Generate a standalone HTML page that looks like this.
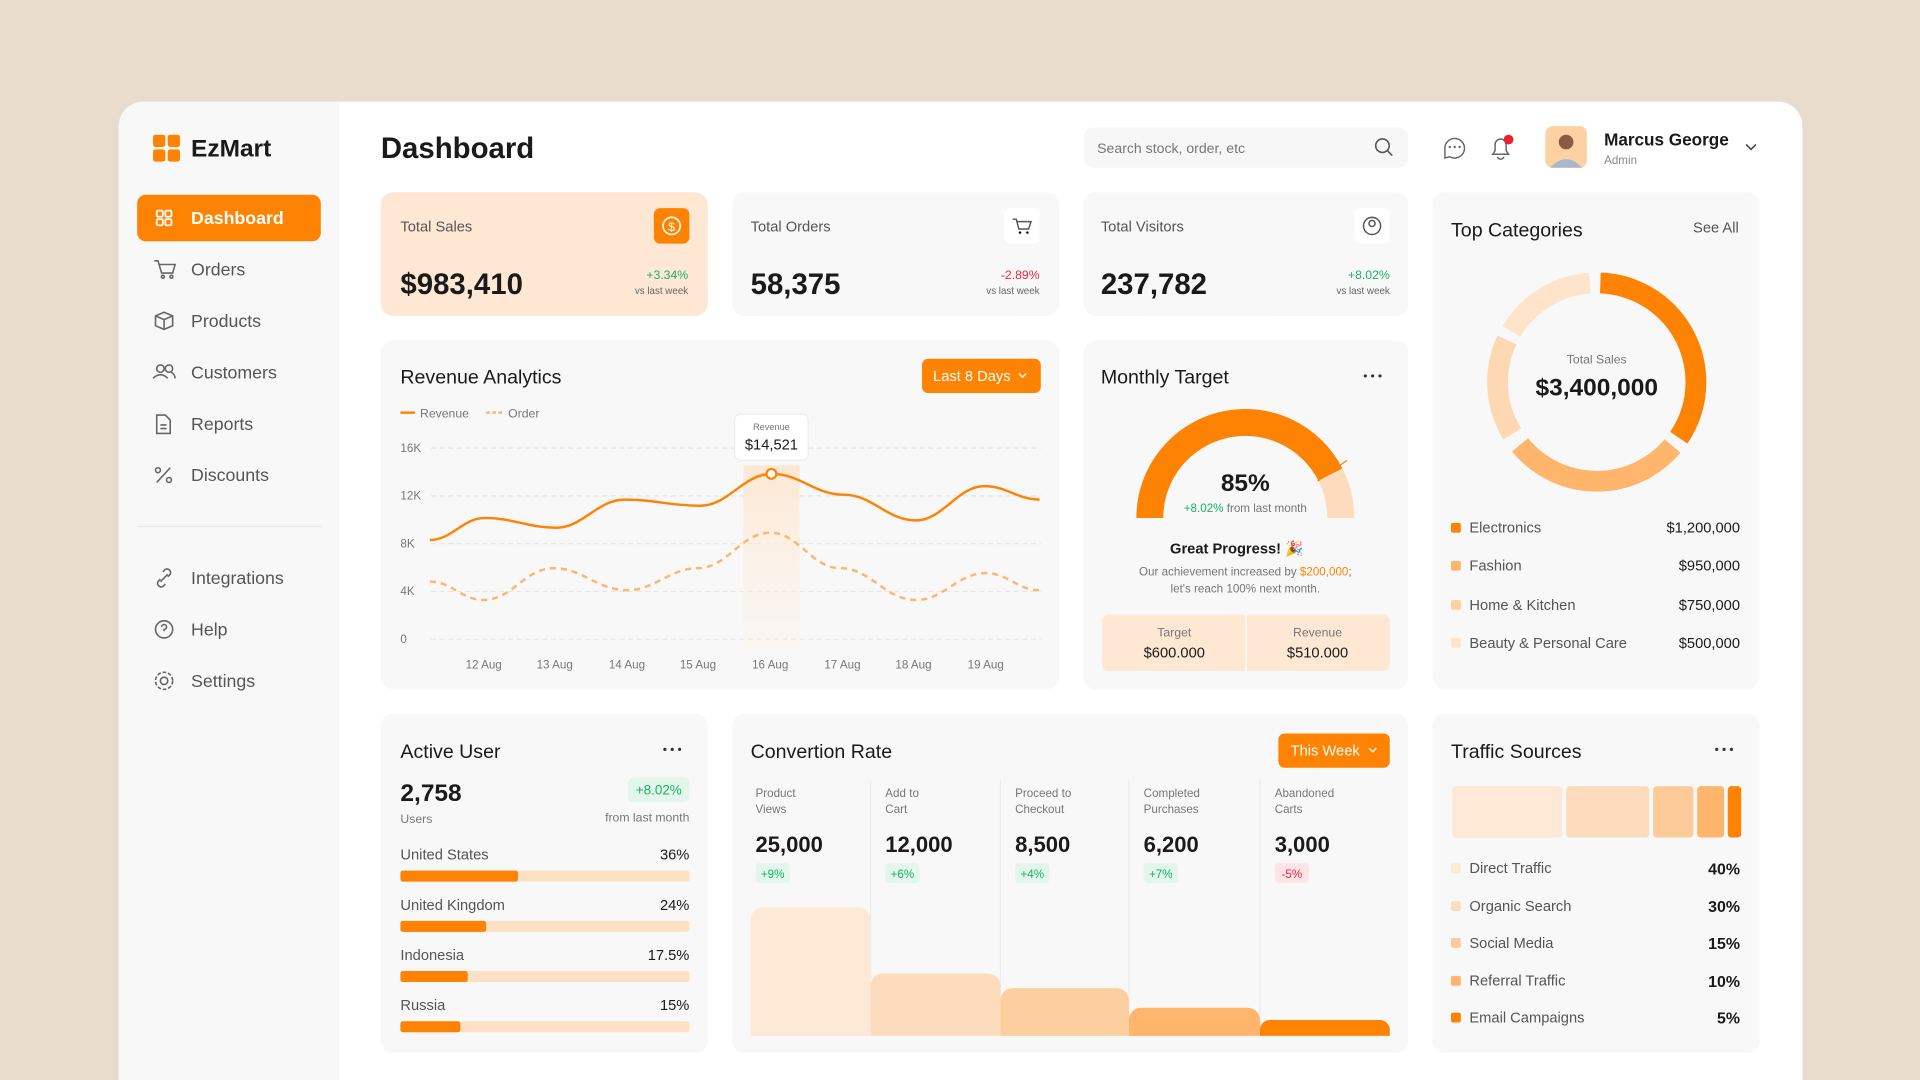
<!DOCTYPE html>
<html><head><meta charset="utf-8"><style>
html,body{margin:0;padding:0;background:#e8dccc;}
svg{display:block;font-family:"Liberation Sans",sans-serif;}
</style></head><body>
<svg width="1920" height="1080" viewBox="0 0 1568 882" xmlns="http://www.w3.org/2000/svg">
<rect width="1568" height="882" fill="#e8dccc"/>
<!-- panel -->
<rect x="97" y="83" width="1375" height="830" rx="20" fill="#ffffff"/>
<path d="M117 83 H277 V882 H97 V103 A20 20 0 0 1 117 83 Z" fill="#f8f8f8"/>
<!-- logo -->
<g fill="#ff8303"><rect x="125" y="110" width="10" height="10" rx="2"/><rect x="137" y="110" width="10" height="10" rx="2"/><rect x="125" y="122" width="10" height="10" rx="2"/><rect x="137" y="122" width="10" height="10" rx="2"/></g>
<text x="156" y="128" font-size="20" font-weight="bold" fill="#1a1a1a">EzMart</text>
<!-- nav -->
<rect x="112" y="159" width="150" height="38" rx="7" fill="#ff8303"/>
<g fill="none" stroke="#fff" stroke-width="1.4"><rect x="128" y="172" width="5" height="5" rx="1"/><rect x="135" y="172" width="5" height="5" rx="1"/><rect x="128" y="179" width="5" height="5" rx="1"/><rect x="135" y="179" width="5" height="5" rx="1"/></g>
<text x="156" y="183" font-size="14.5" fill="#fff" font-weight="bold">Dashboard</text>
<g font-size="14.5" fill="#555">
<text x="156" y="225">Orders</text><text x="156" y="267">Products</text><text x="156" y="309">Customers</text>
<text x="156" y="351">Reports</text><text x="156" y="393">Discounts</text>
<text x="156" y="477">Integrations</text><text x="156" y="519">Help</text><text x="156" y="561">Settings</text>
</g>
<g fill="none" stroke="#666" stroke-width="1.3">
<path d="M126 213 h3 l3 10 h9 l2 -7 h-13"/><circle cx="133" cy="226" r="1.2"/><circle cx="140" cy="226" r="1.2"/>
<path d="M134 255 l7 3 v8 l-7 3 l-7 -3 v-8 z M127 258 l7 3 l7 -3 M134 261 v8"/>
<circle cx="131" cy="301" r="3"/><path d="M125 309 q6 -6 12 0"/><circle cx="138" cy="301" r="3"/><path d="M140 304 q3 2 3 5"/>
<path d="M128 339 h7 l4 4 v11 h-11 z M131 347 h5 M131 350 h5"/>
<path d="M128 394 l11 -12"/><circle cx="129" cy="384" r="2"/><circle cx="138" cy="392" r="2"/>
<path d="M131 473 l-2 2 a3 3 0 0 0 4 4 l2 -2 M137 471 l2 -2 a3 3 0 0 0 -4 -4 l-2 2 M131 475 l6 -6"/>
<circle cx="134" cy="514" r="7"/><path d="M132 512 a2 2 0 1 1 2 2 v1.5"/>
<circle cx="134" cy="556" r="3"/><circle cx="134" cy="556" r="7" stroke-dasharray="3 1.5"/>
</g>
<line x1="112" y1="430" x2="262" y2="430" stroke="#e6e6e6"/>
<!-- header -->
<text x="311" y="129" font-size="24" font-weight="bold" fill="#1a1a1a">Dashboard</text>
<rect x="885" y="104" width="265" height="33" rx="8" fill="#f7f7f7"/>
<text x="896" y="125" font-size="11.5" fill="#777">Search stock, order, etc</text>
<circle cx="1129" cy="119" r="5.5" fill="none" stroke="#555" stroke-width="1.3"/><path d="M1133 123 l4 4" stroke="#555" stroke-width="1.3"/>
<path d="M1180 121 a8 8 0 1 1 4 7 l-4 1 z" fill="none" stroke="#666" stroke-width="1.2"/>
<g fill="#666"><circle cx="1184" cy="120" r="1"/><circle cx="1188" cy="120" r="1"/><circle cx="1192" cy="120" r="1"/></g>
<path d="M1219 126 h13 l-2 -3 v-5 a4.5 4.5 0 0 0 -9 0 v5 z M1223 128 a2.5 2 0 0 0 5 0" fill="none" stroke="#666" stroke-width="1.2"/>
<circle cx="1232" cy="114" r="4" fill="#f21d2f"/>
<rect x="1262" y="103" width="34" height="34" rx="6" fill="#fdd1a2"/>
<circle cx="1279" cy="116" r="6" fill="#8a5a44"/><path d="M1266 137 q13 -14 26 0 z" fill="#a9b8c8"/>
<text x="1310" y="119" font-size="14" font-weight="bold" fill="#1a1a1a">Marcus George</text>
<text x="1310" y="134" font-size="9.5" fill="#888">Admin</text>
<path d="M1426 118 l4 4 l4 -4" fill="none" stroke="#444" stroke-width="1.3"/>
<!-- stat cards -->
<rect x="311" y="157" width="267" height="101" rx="10" fill="#fee8d4"/>
<rect x="598" y="157" width="267" height="101" rx="10" fill="#f8f8f8"/>
<rect x="885" y="157" width="265" height="101" rx="10" fill="#f8f8f8"/>
<g font-size="12" fill="#555"><text x="327" y="189">Total Sales</text><text x="613" y="189">Total Orders</text><text x="899" y="189">Total Visitors</text></g>
<g font-size="24" font-weight="bold" fill="#1a1a1a"><text x="327" y="240">$983,410</text><text x="613" y="240">58,375</text><text x="899" y="240">237,782</text></g>
<rect x="534" y="170" width="29" height="29" rx="5" fill="#ff8303"/><circle cx="548.5" cy="184.5" r="7" fill="none" stroke="#fff" stroke-width="1.3"/><text x="548.5" y="188.5" font-size="10" fill="#fff" text-anchor="middle">$</text>
<rect x="820" y="170" width="29" height="29" rx="5" fill="#fff"/><path d="M827 179 h3 l2 8 h8 l2 -6 h-11" fill="none" stroke="#555" stroke-width="1.2"/><circle cx="833" cy="190" r="1"/><circle cx="839" cy="190" r="1"/>
<rect x="1106" y="170" width="29" height="29" rx="5" fill="#fff"/><circle cx="1120.5" cy="184.5" r="7" fill="none" stroke="#555" stroke-width="1.2"/><circle cx="1120.5" cy="182.5" r="2.5" fill="none" stroke="#555" stroke-width="1.2"/>
<g text-anchor="end"><text x="562" y="228" font-size="10" fill="#16b364">+3.34%</text><text x="562" y="240" font-size="8" fill="#666">vs last week</text>
<text x="849" y="228" font-size="10" fill="#f0243a">-2.89%</text><text x="849" y="240" font-size="8" fill="#666">vs last week</text>
<text x="1135" y="228" font-size="10" fill="#16b364">+8.02%</text><text x="1135" y="240" font-size="8" fill="#666">vs last week</text></g>
<!-- Revenue Analytics -->
<rect x="311" y="278" width="554" height="285" rx="10" fill="#f8f8f8"/>
<text x="327" y="313" font-size="16" fill="#1a1a1a">Revenue Analytics</text>
<rect x="753" y="293" width="97" height="28" rx="5" fill="#ff8303"/>
<text x="762" y="311" font-size="12" fill="#fff">Last 8 Days</text><path d="M832 305 l3 3 l3 -3" fill="none" stroke="#fff" stroke-width="1.1"/>
<line x1="327" y1="337" x2="339" y2="337" stroke="#ff8303" stroke-width="2"/><text x="343" y="341" font-size="10" fill="#777">Revenue</text>
<line x1="397" y1="337" x2="410" y2="337" stroke="#ffb56b" stroke-width="2" stroke-dasharray="3 2"/><text x="415" y="341" font-size="10" fill="#777">Order</text>
<g stroke="#e6e6e6" stroke-dasharray="4 3"><line x1="352" y1="366" x2="850" y2="366"/><line x1="352" y1="405" x2="850" y2="405"/><line x1="352" y1="444" x2="850" y2="444"/><line x1="352" y1="483" x2="850" y2="483"/><line x1="352" y1="522" x2="850" y2="522"/></g>
<g font-size="9.5" fill="#777"><text x="327" y="369">16K</text><text x="327" y="408">12K</text><text x="327" y="447">8K</text><text x="327" y="486">4K</text><text x="327" y="525">0</text></g>
<g font-size="9.5" fill="#777" text-anchor="middle"><text x="395" y="546">12 Aug</text><text x="453" y="546">13 Aug</text><text x="512" y="546">14 Aug</text><text x="570" y="546">15 Aug</text><text x="629" y="546">16 Aug</text><text x="688" y="546">17 Aug</text><text x="746" y="546">18 Aug</text><text x="805" y="546">19 Aug</text></g>
<defs><linearGradient id="hb" x1="0" y1="0" x2="0" y2="1"><stop offset="0" stop-color="#fde8d4"/><stop offset="1" stop-color="#fdf1e6" stop-opacity="0.3"/></linearGradient></defs>
<rect x="607" y="380" width="46" height="150" fill="url(#hb)"/>
<path d="M351 441 C369 441 378 423 396 423 C419 423 431 431 454 431 C476 431 488 408 510 408 C535 408 547 413 572 413 C595 413 607 387 630 387 C654 387 665 404 689 404 C713 404 724 425 748 425 C770 425 782 397 804 397 C822 397 831 408 849 408" fill="none" stroke="#ff8303" stroke-width="2"/>
<path d="M351 475 C369 475 377 490 395 490 C418 490 429 464 452 464 C476 464 488 482 512 482 C535 482 547 464 570 464 C594 464 605 435 629 435 C652 435 663 464 686 464 C711 464 723 490 748 490 C771 490 782 468 805 468 C823 468 831 482 849 482" fill="none" stroke="#ffb56b" stroke-width="2" stroke-dasharray="5 4"/>
<rect x="600" y="338" width="60" height="38" rx="5" fill="#fff" stroke="#eee"/>
<text x="630" y="351" font-size="7.5" fill="#777" text-anchor="middle">Revenue</text>
<text x="630" y="367" font-size="12" fill="#1a1a1a" text-anchor="middle">$14,521</text>
<circle cx="630" cy="387" r="4" fill="#fff" stroke="#ff8303" stroke-width="1.8"/>
<!-- Monthly Target -->
<rect x="885" y="278" width="265" height="285" rx="10" fill="#f8f8f8"/>
<text x="899" y="313" font-size="16" fill="#1a1a1a">Monthly Target</text>
<g fill="#333"><circle cx="1115" cy="307" r="1.3"/><circle cx="1121" cy="307" r="1.3"/><circle cx="1127" cy="307" r="1.3"/></g>
<path d="M939 423 A78 78 0 0 1 1086.5 387.6" fill="none" stroke="#ff8303" stroke-width="22"/>
<path d="M1086.5 387.6 A78 78 0 0 1 1095 423" fill="none" stroke="#fddcbd" stroke-width="22"/>
<line x1="1076" y1="393" x2="1100" y2="376" stroke="#ff8303" stroke-width="1"/>
<text x="1017" y="401" font-size="20" font-weight="bold" fill="#1a1a1a" text-anchor="middle">85%</text>
<text x="1017" y="418" font-size="9.5" fill="#777" text-anchor="middle"><tspan fill="#16b364">+8.02%</tspan> from last month</text>
<text x="1010" y="452" font-size="12" font-weight="bold" fill="#1a1a1a" text-anchor="middle">Great Progress! 🎉</text>
<text x="1017" y="470" font-size="9.5" fill="#777" text-anchor="middle">Our achievement increased by <tspan fill="#ff8303">$200,000</tspan>;</text>
<text x="1017" y="484" font-size="9.5" fill="#777" text-anchor="middle">let's reach 100% next month.</text>
<rect x="900" y="502" width="235" height="46" rx="5" fill="#fee8d4"/>
<line x1="1017.5" y1="502" x2="1017.5" y2="548" stroke="#fff"/>
<text x="959" y="520" font-size="10" fill="#777" text-anchor="middle">Target</text>
<text x="959" y="537" font-size="12" fill="#1a1a1a" text-anchor="middle">$600.000</text>
<text x="1076" y="520" font-size="10" fill="#777" text-anchor="middle">Revenue</text>
<text x="1076" y="537" font-size="12" fill="#1a1a1a" text-anchor="middle">$510.000</text>
<!-- Top Categories -->
<rect x="1170" y="157" width="267" height="406" rx="10" fill="#f8f8f8"/>
<text x="1185" y="193" font-size="16" fill="#1a1a1a">Top Categories</text>
<text x="1420" y="190" font-size="12" fill="#555" text-anchor="end">See All</text>
<g fill="none" stroke-width="17" transform="rotate(-90 1304 312)">
<circle cx="1304" cy="312" r="81" stroke="#ff8303" stroke-dasharray="172.5 336.4" stroke-dashoffset="-3"/>
<circle cx="1304" cy="312" r="81" stroke="#ffb56b" stroke-dasharray="142 366.9" stroke-dashoffset="-184"/>
<circle cx="1304" cy="312" r="81" stroke="#fdd8b3" stroke-dasharray="80 428.9" stroke-dashoffset="-337"/>
<circle cx="1304" cy="312" r="81" stroke="#fee4ca" stroke-dasharray="78 430.9" stroke-dashoffset="-425"/>
</g>
<text x="1304" y="297" font-size="10" fill="#777" text-anchor="middle">Total Sales</text>
<text x="1304" y="323" font-size="20" font-weight="bold" fill="#1a1a1a" text-anchor="middle">$3,400,000</text>
<rect x="1185" y="427" width="8" height="8" rx="1.5" fill="#ff8303"/><rect x="1185" y="458" width="8" height="8" rx="1.5" fill="#ffb56b"/><rect x="1185" y="490" width="8" height="8" rx="1.5" fill="#fdd1a2"/><rect x="1185" y="521" width="8" height="8" rx="1.5" fill="#fee4ca"/>
<g font-size="12" fill="#555"><text x="1200" y="435">Electronics</text><text x="1200" y="466">Fashion</text><text x="1200" y="498">Home &amp; Kitchen</text><text x="1200" y="529">Beauty &amp; Personal Care</text></g>
<g font-size="12" fill="#1a1a1a" text-anchor="end"><text x="1421" y="435">$1,200,000</text><text x="1421" y="466">$950,000</text><text x="1421" y="498">$750,000</text><text x="1421" y="529">$500,000</text></g>
<!-- Active User -->
<rect x="311" y="583" width="267" height="277" rx="10" fill="#f8f8f8"/>
<text x="327" y="619" font-size="16" fill="#1a1a1a">Active User</text>
<g fill="#333"><circle cx="543" cy="612" r="1.3"/><circle cx="549" cy="612" r="1.3"/><circle cx="555" cy="612" r="1.3"/></g>
<text x="327" y="654" font-size="20" font-weight="bold" fill="#1a1a1a">2,758</text>
<rect x="513" y="635" width="50" height="20" rx="4" fill="#e3f6ec"/><text x="538" y="649" font-size="11" fill="#16b364" text-anchor="middle">+8.02%</text>
<text x="327" y="672" font-size="10" fill="#777">Users</text><text x="563" y="671" font-size="10" fill="#777" text-anchor="end">from last month</text>
<g font-size="12" fill="#555"><text x="327" y="702">United States</text><text x="327" y="743">United Kingdom</text><text x="327" y="784">Indonesia</text><text x="327" y="825">Russia</text></g>
<g font-size="12" fill="#1a1a1a" text-anchor="end"><text x="563" y="702">36%</text><text x="563" y="743">24%</text><text x="563" y="784">17.5%</text><text x="563" y="825">15%</text></g>
<g fill="#fee0c4"><rect x="327" y="711" width="236" height="9" rx="2"/><rect x="327" y="752" width="236" height="9" rx="2"/><rect x="327" y="793" width="236" height="9" rx="2"/><rect x="327" y="834" width="236" height="9" rx="2"/></g>
<g fill="#ff8303"><rect x="327" y="711" width="96" height="9" rx="2"/><rect x="327" y="752" width="70" height="9" rx="2"/><rect x="327" y="793" width="55" height="9" rx="2"/><rect x="327" y="834" width="49" height="9" rx="2"/></g>
<!-- Convertion -->
<rect x="598" y="583" width="552" height="277" rx="10" fill="#f8f8f8"/>
<text x="613" y="619" font-size="16" fill="#1a1a1a">Convertion Rate</text>
<rect x="1044" y="599" width="91" height="28" rx="5" fill="#ff8303"/>
<text x="1054" y="617" font-size="12" fill="#fff">This Week</text><path d="M1118 611 l3 3 l3 -3" fill="none" stroke="#fff" stroke-width="1.1"/>
<g stroke="#ececec"><line x1="711" y1="637" x2="711" y2="846"/><line x1="817" y1="637" x2="817" y2="846"/><line x1="922" y1="637" x2="922" y2="846"/><line x1="1029" y1="637" x2="1029" y2="846"/></g>
<g font-size="9.5" fill="#777"><text x="617" y="651">Product</text><text x="617" y="664">Views</text><text x="723" y="651">Add to</text><text x="723" y="664">Cart</text><text x="829" y="651">Proceed to</text><text x="829" y="664">Checkout</text><text x="934" y="651">Completed</text><text x="934" y="664">Purchases</text><text x="1041" y="651">Abandoned</text><text x="1041" y="664">Carts</text></g>
<g font-size="18" font-weight="bold" fill="#1a1a1a"><text x="617" y="696">25,000</text><text x="723" y="696">12,000</text><text x="829" y="696">8,500</text><text x="934" y="696">6,200</text><text x="1041" y="696">3,000</text></g>
<g fill="#e3f6ec"><rect x="617" y="705" width="28" height="16" rx="3"/><rect x="723" y="705" width="28" height="16" rx="3"/><rect x="829" y="705" width="28" height="16" rx="3"/><rect x="934" y="705" width="28" height="16" rx="3"/></g><rect x="1041" y="705" width="28" height="16" rx="3" fill="#fde4e6"/>
<g font-size="9.5" fill="#16b364" text-anchor="middle"><text x="631" y="717">+9%</text><text x="737" y="717">+6%</text><text x="843" y="717">+4%</text><text x="948" y="717">+7%</text><text x="1055" y="717" fill="#f0243a">-5%</text></g>
<path d="M613 846 V751 a10 10 0 0 1 10 -10 H701 a10 10 0 0 1 10 10 V846 Z" fill="#fee9d6"/>
<path d="M711 846 V805 a10 10 0 0 1 10 -10 H807 a10 10 0 0 1 10 10 V846 Z" fill="#fddcbd"/>
<path d="M817 846 V817 a10 10 0 0 1 10 -10 H912 a10 10 0 0 1 10 10 V846 Z" fill="#fdcf9f"/>
<path d="M922 846 V833 a10 10 0 0 1 10 -10 H1019 a10 10 0 0 1 10 10 V846 Z" fill="#ffb56b"/>
<path d="M1029 846 V841 a8 8 0 0 1 8 -8 H1127 a8 8 0 0 1 8 8 V846 Z" fill="#ff8303"/>
<!-- Traffic -->
<rect x="1170" y="583" width="267" height="277" rx="10" fill="#f8f8f8"/>
<text x="1185" y="619" font-size="16" fill="#1a1a1a">Traffic Sources</text>
<g fill="#333"><circle cx="1402" cy="612" r="1.3"/><circle cx="1408" cy="612" r="1.3"/><circle cx="1414" cy="612" r="1.3"/></g>
<rect x="1186" y="642" width="90" height="42" rx="3" fill="#fee9d6"/>
<rect x="1279" y="642" width="68" height="42" rx="3" fill="#fddcbd"/>
<rect x="1350" y="642" width="33" height="42" rx="3" fill="#fdcb9a"/>
<rect x="1386" y="642" width="22" height="42" rx="3" fill="#ffb56b"/>
<rect x="1411" y="642" width="11" height="42" rx="3" fill="#ff8303"/>
<rect x="1185" y="705" width="8" height="8" rx="1.5" fill="#fee9d6"/><rect x="1185" y="736" width="8" height="8" rx="1.5" fill="#fddcbd"/><rect x="1185" y="766" width="8" height="8" rx="1.5" fill="#fdcb9a"/><rect x="1185" y="797" width="8" height="8" rx="1.5" fill="#ffb56b"/><rect x="1185" y="827" width="8" height="8" rx="1.5" fill="#ff8303"/>
<g font-size="12" fill="#555"><text x="1200" y="713">Direct Traffic</text><text x="1200" y="744">Organic Search</text><text x="1200" y="774">Social Media</text><text x="1200" y="805">Referral Traffic</text><text x="1200" y="835">Email Campaigns</text></g>
<g font-size="13" font-weight="bold" fill="#1a1a1a" text-anchor="end"><text x="1421" y="714">40%</text><text x="1421" y="745">30%</text><text x="1421" y="775">15%</text><text x="1421" y="806">10%</text><text x="1421" y="836">5%</text></g>
</svg>
</body></html>
